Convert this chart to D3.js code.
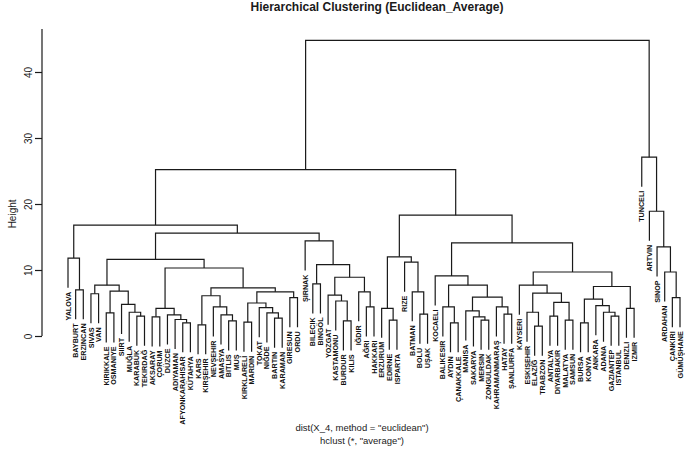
<!DOCTYPE html>
<html>
<head>
<meta charset="utf-8">
<script src="https://cdn.jsdelivr.net/npm/d3@7"></script>
<style>
  body { margin: 0; background: #fff; }
  svg { display: block; font-family: 'Liberation Sans', Arial, sans-serif; }
</style>
</head>
<body>
<svg id="chart" width="685" height="449"></svg>
<script>
// leaves in the order the dendrogram draws them
const provinces = ["YALOVA", "BAYBURT", "ERZINCAN", "SIVAS", "VAN", "KIRIKKALE", "OSMANIYE", "SIIRT",
  "MUĞLA", "KARABÜK", "TEKIRDAĞ", "AKSARAY", "ÇORUM", "DÜZCE", "ADIYAMAN", "AFYONKARAHISAR", "KÜTAHYA",
  "KARS", "KIRŞEHIR", "NEVŞEHIR", "AMASYA", "BITLIS", "MUŞ", "KIRKLARELI", "MARDIN", "TOKAT", "NIĞDE",
  "BARTIN", "KARAMAN", "GIRESUN", "ORDU", "ŞIRNAK", "BILECIK", "BINGÖL", "YOZGAT", "KASTAMONU", "BURDUR",
  "KILIS", "IĞDIR", "AĞRI", "HAKKARI", "ERZURUM", "EDIRNE", "ISPARTA", "RIZE", "BATMAN", "BOLU", "UŞAK",
  "KOCAELI", "BALIKESIR", "AYDIN", "ÇANAKKALE", "MANISA", "SAKARYA", "MERSIN", "ZONGULDAK",
  "KAHRAMANMARAŞ", "HATAY", "ŞANLIURFA", "KAYSERI", "ESKIŞEHIR", "ELAZIĞ", "TRABZON", "ANTALYA",
  "DIYARBAKIR", "MALATYA", "SAMSUN", "BURSA", "KONYA", "ANKARA", "ADANA", "GAZIANTEP", "ISTANBUL",
  "DENIZLI", "IZMIR", "TUNCELI", "ARTVIN", "SINOP", "ARDAHAN", "ÇANKIRI", "GÜMÜŞHANE"]

// hclust style merge table: negative = leaf (1-based in provinces), positive = earlier merge row
const merges = [
  [-2, -3], [-1, 1], [-4, -5], [-6, -7], [-10, -11], [-9, 5], [-8, 6], [4, 7], [3, 8],
  [-12, -13], [-16, -17], [-15, 11], [-14, 12], [10, 13],
  [-18, -19], [-22, -23], [-21, 16], [-20, 17], [15, 18],
  [-24, -25], [-28, -29], [-27, 21], [-26, 22], [20, 23], [-30, -31], [24, 25], [19, 26], [14, 27], [9, 28],
  [-33, -34], [-37, -38], [-36, 31], [-35, 32], [-40, -41], [-39, 34], [33, 35], [30, 36], [-32, 37], [29, 38], [2, 39],
  [-43, -44], [-42, 41], [-47, -48], [-46, 43], [-45, 44], [42, 45],
  [-51, -52], [-50, 47], [-55, -56], [-54, 49], [-53, 50], [-58, -59], [-57, 52], [51, 53], [48, 54], [-49, 55],
  [-62, -63], [-61, 57], [-64, -65], [-66, -67], [59, 60], [58, 61], [-60, 62],
  [-68, -69], [-72, -73], [-71, 65], [-70, 66], [64, 67], [-74, -75], [68, 69], [63, 70],
  [56, 71], [46, 72], [40, 73],
  [-80, -81], [-79, 75], [-78, 76], [-77, 77], [-76, 78], [74, 79]
]

const heights = [
  7.0, 11.8, 6.4, 3.5, 3.0, 3.6, 4.8, 6.8, 7.7,
  2.9, 2.0, 2.5, 3.2, 4.2,
  1.7, 2.3, 3.2, 4.4, 6.1,
  2.1, 2.7, 3.5, 4.3, 5.0, 5.8, 6.7, 7.3, 10.3, 11.6,
  7.9, 2.3, 5.3, 6.2, 4.4, 6.7, 8.9, 10.8, 14.4, 15.6, 16.8,
  2.4, 4.2, 3.3, 6.7, 11.2, 12.0,
  2.0, 4.4, 2.4, 2.9, 3.8, 3.3, 4.4, 5.9, 7.7, 9.1,
  1.5, 3.6, 3.0, 2.4, 5.1, 6.5, 7.7,
  2.0, 3.0, 3.6, 4.6, 5.6, 4.2, 7.5, 9.7,
  14.1, 18.3, 25.2,
  5.8, 9.7, 13.5, 18.9, 27.1, 44.8
]

const yTicks = [0, 10, 20, 30, 40]

const w = 685
const h = 449
const hang = 0.1 * d3.max(heights)
const ink = "#1a1a1a"

const svg = d3.select('#chart')

const x = d3.scalePoint()
  .domain(provinces)
  .range([68, 680])

const y = d3.scaleLinear()
  .domain([0, 40])
  .range([336, 72])

// centre of each merge, and where each leaf ends
const mid = []
const leafEnd = {}
const xOf = ref => ref < 0 ? x(provinces[-ref - 1]) : mid[ref - 1]
const bottomOf = (ref, i) => ref < 0 ? heights[i] - hang : heights[ref - 1]

merges.forEach((m, i) => {
  mid.push((xOf(m[0]) + xOf(m[1])) / 2)
  m.forEach(ref => { if (ref < 0) leafEnd[provinces[-ref - 1]] = heights[i] - hang })
})

svg.append('g')
  .selectAll('path')
  .data(merges).enter()
  .append('path')
    .attr('fill', 'none')
    .attr('stroke', ink)
    .attr('stroke-width', 1.2)
    .attr('d', (m, i) => `M${xOf(m[0])},${y(bottomOf(m[0], i))}V${y(heights[i])}H${xOf(m[1])}V${y(bottomOf(m[1], i))}`)

svg.append('g')
  .selectAll('text')
  .data(provinces).enter()
  .append('text')
    .attr('transform', d => `translate(${x(d)},${y(leafEnd[d]) + 4}) rotate(-90)`)
    .attr('text-anchor', 'end')
    .attr('dy', '0.36em')
    .style('font-size', '7.2px')
    .style('font-weight', 700)
    .attr('fill', '#111')
    .text(d => d)

// y axis
svg.append('g')
  .attr('transform', 'translate(42,0)')
  .call(d3.axisLeft(y).tickValues(yTicks).tickSize(7).tickSizeOuter(0))
  .call(g => g.select('.domain').remove())
  .call(g => g.selectAll('.tick line').attr('stroke', ink).attr('stroke-width', 1.2))
  .call(g => g.selectAll('.tick text')
    .attr('x', 0)
    .attr('dy', 0)
    .attr('text-anchor', 'middle')
    .attr('transform', 'translate(-10,0) rotate(-90)')
    .attr('fill', ink)
    .style('font-family', "'Liberation Sans', Arial, sans-serif")
    .style('font-size', '10px'))

svg.append('line')
  .attr('x1', 42).attr('x2', 42)
  .attr('y1', y(0)).attr('y2', y(46.5))
  .attr('stroke', ink)
  .attr('stroke-width', 1.2)

svg.append('text')
  .attr('transform', `translate(16,${y(18.5)}) rotate(-90)`)
  .attr('text-anchor', 'middle')
  .style('font-size', '10px')
  .attr('fill', ink)
  .text('Height')

svg.append('text')
  .attr('x', 377)
  .attr('y', 11)
  .attr('text-anchor', 'middle')
  .style('font-size', '12px')
  .style('font-weight', 700)
  .attr('fill', ink)
  .text('Hierarchical Clustering (Euclidean_Average)')

svg.append('text')
  .attr('x', 362)
  .attr('y', 431)
  .attr('text-anchor', 'middle')
  .style('font-size', '9.5px')
  .attr('fill', ink)
  .text('dist(X_4, method = "euclidean")')

svg.append('text')
  .attr('x', 362)
  .attr('y', 444)
  .attr('text-anchor', 'middle')
  .style('font-size', '9.5px')
  .attr('fill', ink)
  .text('hclust (*, "average")')
</script>
</body>
</html>
